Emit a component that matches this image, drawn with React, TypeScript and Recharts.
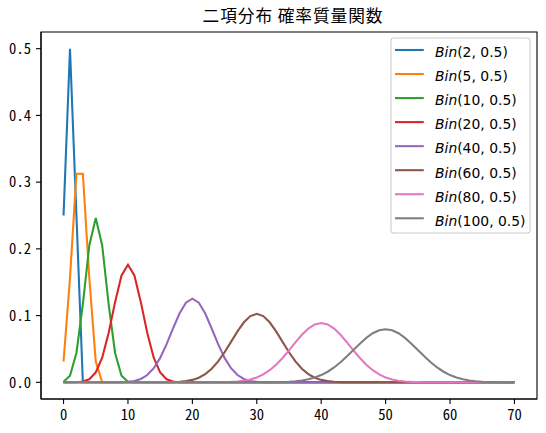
import React from 'react';
import { LineChart, Line, XAxis, YAxis, ReferenceArea } from 'recharts';

const kValues = [
  0, 1, 2, 3, 4, 5, 6, 7, 8, 9,
  10, 11, 12, 13, 14, 15, 16, 17, 18, 19,
  20, 21, 22, 23, 24, 25, 26, 27, 28, 29,
  30, 31, 32, 33, 34, 35, 36, 37, 38, 39,
  40, 41, 42, 43, 44, 45, 46, 47, 48, 49,
  50, 51, 52, 53, 54, 55, 56, 57, 58, 59,
  60, 61, 62, 63, 64, 65, 66, 67, 68, 69,
  70,
];

const bin2 = [
  0.25, 0.5, 0.25, 0, 0, 0, 0, 0, 0, 0,
  0, 0, 0, 0, 0, 0, 0, 0, 0, 0,
  0, 0, 0, 0, 0, 0, 0, 0, 0, 0,
  0, 0, 0, 0, 0, 0, 0, 0, 0, 0,
  0, 0, 0, 0, 0, 0, 0, 0, 0, 0,
  0, 0, 0, 0, 0, 0, 0, 0, 0, 0,
  0, 0, 0, 0, 0, 0, 0, 0, 0, 0,
  0,
];

const bin5 = [
  0.03125, 0.15625, 0.3125, 0.3125, 0.15625, 0.03125, 0, 0, 0, 0,
  0, 0, 0, 0, 0, 0, 0, 0, 0, 0,
  0, 0, 0, 0, 0, 0, 0, 0, 0, 0,
  0, 0, 0, 0, 0, 0, 0, 0, 0, 0,
  0, 0, 0, 0, 0, 0, 0, 0, 0, 0,
  0, 0, 0, 0, 0, 0, 0, 0, 0, 0,
  0, 0, 0, 0, 0, 0, 0, 0, 0, 0,
  0,
];

const bin10 = [
  0.000977, 0.009766, 0.043945, 0.117188, 0.205078, 0.246094, 0.205078, 0.117188, 0.043945, 0.009766,
  0.000977, 0, 0, 0, 0, 0, 0, 0, 0, 0,
  0, 0, 0, 0, 0, 0, 0, 0, 0, 0,
  0, 0, 0, 0, 0, 0, 0, 0, 0, 0,
  0, 0, 0, 0, 0, 0, 0, 0, 0, 0,
  0, 0, 0, 0, 0, 0, 0, 0, 0, 0,
  0, 0, 0, 0, 0, 0, 0, 0, 0, 0,
  0,
];

const bin20 = [
  0.000001, 0.000019, 0.000181, 0.001087, 0.004621, 0.014786, 0.036964, 0.073929, 0.120134, 0.160179,
  0.176197, 0.160179, 0.120134, 0.073929, 0.036964, 0.014786, 0.004621, 0.001087, 0.000181, 0.000019,
  0.000001, 0, 0, 0, 0, 0, 0, 0, 0, 0,
  0, 0, 0, 0, 0, 0, 0, 0, 0, 0,
  0, 0, 0, 0, 0, 0, 0, 0, 0, 0,
  0, 0, 0, 0, 0, 0, 0, 0, 0, 0,
  0, 0, 0, 0, 0, 0, 0, 0, 0, 0,
  0,
];

const bin40 = [
  0, 0, 0, 0, 0, 0.000001, 0.000004, 0.000017, 0.00007, 0.000249,
  0.000771, 0.002103, 0.005081, 0.010944, 0.021107, 0.036585, 0.057164, 0.080702, 0.103119, 0.119401,
  0.125371, 0.119401, 0.103119, 0.080702, 0.057164, 0.036585, 0.021107, 0.010944, 0.005081, 0.002103,
  0.000771, 0.000249, 0.00007, 0.000017, 0.000004, 0.000001, 0, 0, 0, 0,
  0, 0, 0, 0, 0, 0, 0, 0, 0, 0,
  0, 0, 0, 0, 0, 0, 0, 0, 0, 0,
  0, 0, 0, 0, 0, 0, 0, 0, 0, 0,
  0,
];

const bin60 = [
  0, 0, 0, 0, 0, 0, 0, 0, 0, 0,
  0, 0, 0.000001, 0.000004, 0.000015, 0.000046, 0.00013, 0.000336, 0.000802, 0.001774,
  0.003636, 0.006925, 0.012277, 0.020283, 0.03127, 0.045028, 0.060615, 0.07633, 0.089963, 0.099269,
  0.102578, 0.099269, 0.089963, 0.07633, 0.060615, 0.045028, 0.03127, 0.020283, 0.012277, 0.006925,
  0.003636, 0.001774, 0.000802, 0.000336, 0.00013, 0.000046, 0.000015, 0.000004, 0.000001, 0,
  0, 0, 0, 0, 0, 0, 0, 0, 0, 0,
  0, 0, 0, 0, 0, 0, 0, 0, 0, 0,
  0,
];

const bin80 = [
  0, 0, 0, 0, 0, 0, 0, 0, 0, 0,
  0, 0, 0, 0, 0, 0, 0, 0, 0, 0.000001,
  0.000003, 0.000008, 0.000022, 0.000057, 0.000134, 0.000301, 0.000636, 0.001272, 0.002407, 0.004317,
  0.007338, 0.011836, 0.018124, 0.026362, 0.036441, 0.047894, 0.059867, 0.071193, 0.080561, 0.086758,
  0.088927, 0.086758, 0.080561, 0.071193, 0.059867, 0.047894, 0.036441, 0.026362, 0.018124, 0.011836,
  0.007338, 0.004317, 0.002407, 0.001272, 0.000636, 0.000301, 0.000134, 0.000057, 0.000022, 0.000008,
  0.000003, 0.000001, 0, 0, 0, 0, 0, 0, 0, 0,
  0,
];

const bin100 = [
  0, 0, 0, 0, 0, 0, 0, 0, 0, 0,
  0, 0, 0, 0, 0, 0, 0, 0, 0, 0,
  0, 0, 0, 0, 0, 0, 0, 0.000002, 0.000004, 0.00001,
  0.000023, 0.000052, 0.000113, 0.000232, 0.000458, 0.000864, 0.00156, 0.002698, 0.004473, 0.007111,
  0.010844, 0.015869, 0.022292, 0.030069, 0.038953, 0.048474, 0.057958, 0.06659, 0.073527, 0.078029,
  0.079589, 0.078029, 0.073527, 0.06659, 0.057958, 0.048474, 0.038953, 0.030069, 0.022292, 0.015869,
  0.010844, 0.007111, 0.004473, 0.002698, 0.00156, 0.000864, 0.000458, 0.000232, 0.000113, 0.000052,
  0.000023,
];

const seriesKeys = ['b2', 'b5', 'b10', 'b20', 'b40', 'b60', 'b80', 'b100'];
const seriesArgs = ['(2, 0.5)', '(5, 0.5)', '(10, 0.5)', '(20, 0.5)', '(40, 0.5)', '(60, 0.5)', '(80, 0.5)', '(100, 0.5)'];
const seriesValues = [bin2, bin5, bin10, bin20, bin40, bin60, bin80, bin100];
const colors = ['#1f77b4', '#ff7f0e', '#2ca02c', '#d62728', '#9467bd', '#8c564b', '#e377c2', '#7f7f7f'];

const xTicks = [0, 10, 20, 30, 40, 50, 60, 70];
const yTicks = [0, 0.1, 0.2, 0.3, 0.4, 0.5];
const titleText = '二項分布 確率質量関数';

const data = kValues.map((k, i) => {
  const row: Record<string, number> = { k };
  seriesKeys.forEach((key, s) => {
    row[key] = seriesValues[s][i];
  });
  return row;
});

const W = 546;
const H = 433;
const tickFont = "'Noto Sans Mono CJK JP', 'Noto Sans CJK JP', 'DejaVu Sans Mono', monospace";
const tickStyle = { fontFamily: tickFont, fontSize: 14.6, fill: '#000' };

export default function App() {
  const legendLeft = 391;
  const legendTop = 38;
  const legendW = 139;
  const legendH = 195;
  return (
    <div style={{ position: 'absolute', left: 0, top: 0, width: W, height: H, background: '#fff' }}>
      <LineChart
        width={W}
        height={H}
        data={data}
        margin={{ top: 32, right: 9, bottom: 0, left: 0 }}
      >
        <XAxis
          dataKey="k"
          type="number"
          domain={[-3.5, 73.5]}
          allowDataOverflow
          ticks={xTicks}
          interval={0}
          height={34}
          tickSize={5}
          tickMargin={6}
          tick={tickStyle}
          stroke="#000"
          axisLine={{ stroke: '#000', strokeWidth: 1.1 }}
          tickLine={{ stroke: '#000', strokeWidth: 1.1 }}
        />
        <YAxis
          type="number"
          domain={[-0.025, 0.525]}
          allowDataOverflow
          ticks={yTicks}
          interval={0}
          width={41}
          tickSize={5}
          tickMargin={5}
          tick={tickStyle}
          tickFormatter={(v: number) => v.toFixed(1)}
          stroke="#000"
          axisLine={{ stroke: '#000', strokeWidth: 1.1 }}
          tickLine={{ stroke: '#000', strokeWidth: 1.1 }}
        />
        {seriesKeys.map((key, s) => (
          <Line
            key={key}
            type="linear"
            dataKey={key}
            stroke={colors[s]}
            strokeWidth={2.08}
            dot={false}
            activeDot={false}
            isAnimationActive={false}
          />
        ))}
        <ReferenceArea
          x1={-3.5}
          x2={73.5}
          y1={-0.025}
          y2={0.525}
          fill="none"
          fillOpacity={0}
          stroke="#000"
          strokeWidth={1.1}
          ifOverflow="visible"
        />
      </LineChart>
      <svg
        width={W}
        height={H}
        style={{ position: 'absolute', left: 0, top: 0, pointerEvents: 'none' }}
      >
        <text
          x={202.5}
          y={21.5}
          textLength={180}
          lengthAdjust="spacing"
          fontFamily="'Noto Sans CJK JP', sans-serif"
          fontSize={16.7}
          fill="#000"
        >
          {titleText}
        </text>
        <rect
          x={legendLeft}
          y={legendTop}
          width={legendW}
          height={legendH}
          rx={2.8}
          ry={2.8}
          fill="rgba(255,255,255,0.8)"
          stroke="#cccccc"
          strokeWidth={1.1}
        />
        {seriesArgs.map((arg, s) => {
          const cy = 50 + s * 24.04;
          return (
            <g key={arg}>
              <line x1={395} x2={423.8} y1={cy} y2={cy} stroke={colors[s]} strokeWidth={2.08} />
              <text
                x={435}
                y={cy + 7.3}
                fontFamily="'DejaVu Sans', sans-serif"
                fontSize={13.9}
                fill="#000"
              >
                <tspan fontStyle="italic">Bin</tspan>
                <tspan>{arg}</tspan>
              </text>
            </g>
          );
        })}
      </svg>
    </div>
  );
}
